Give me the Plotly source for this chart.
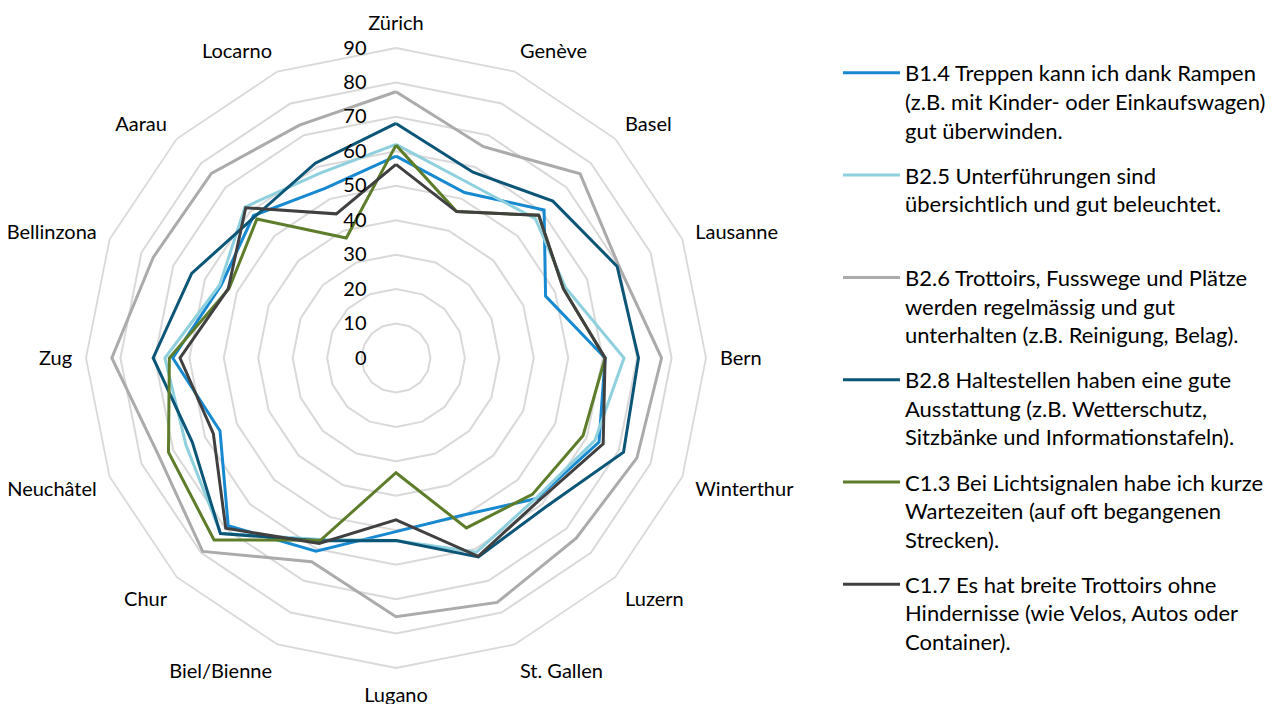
import plotly.graph_objects as go

cities = ["Zürich", "Genève", "Basel", "Lausanne", "Bern", "Winterthur", "Luzern",
          "St. Gallen", "Lugano", "Biel/Bienne", "Chur", "Neuchâtel", "Zug",
          "Bellinzona", "Aarau", "Locarno"]

b14 = [58.6, 52.0, 60.8, 47.0, 60.7, 63.8, 57.7, 49.5, 50.4, 60.7, 68.9, 55.3, 64.8, 55.0, 58.5, 53.4]
b25 = [62.0, 55.0, 57.2, 53.3, 66.2, 62.5, 57.5, 61.0, 53.0, 57.0, 72.0, 66.0, 67.1, 55.4, 62.0, 58.0]
b26 = [77.3, 66.4, 75.6, 70.0, 77.1, 75.7, 74.0, 76.8, 75.1, 64.0, 79.4, 74.5, 82.5, 76.3, 75.8, 73.2]
b28 = [68.1, 58.4, 64.4, 69.5, 70.4, 71.5, 61.3, 62.5, 53.0, 57.4, 72.1, 64.0, 70.5, 64.2, 58.0, 61.2]
c13 = [61.8, 46.0, 58.6, 52.6, 60.7, 58.8, 56.0, 53.4, 33.3, 57.3, 74.7, 71.5, 65.8, 52.5, 57.1, 37.7]
c17 = [56.2, 46.0, 58.6, 52.6, 60.7, 65.1, 58.6, 62.3, 47.0, 58.3, 69.9, 57.4, 62.7, 52.7, 61.7, 45.3]

series_names = [
    "B1.4 Treppen kann ich dank Rampen<br>(z.B. mit Kinder- oder Einkaufswagen)<br>gut überwinden.",
    "B2.5 Unterführungen sind<br>übersichtlich und gut beleuchtet.<br> ",
    "B2.6 Trottoirs, Fusswege und Plätze<br>werden regelmässig und gut<br>unterhalten (z.B. Reinigung, Belag).",
    "B2.8 Haltestellen haben eine gute<br>Ausstattung (z.B. Wetterschutz,<br>Sitzbänke und Informationstafeln).",
    "C1.3 Bei Lichtsignalen habe ich kurze<br>Wartezeiten (auf oft begangenen<br>Strecken).",
    "C1.7 Es hat breite Trottoirs ohne<br>Hindernisse (wie Velos, Autos oder<br>Container).",
]
series_values = [b14, b25, b26, b28, c13, c17]
series_colors = ["#1689D0", "#8ED0DD", "#ABABAB", "#0B5577", "#5E7D2A", "#404040"]

radial_ticks = [0, 10, 20, 30, 40, 50, 60, 70, 80, 90]

FONT = "Lato"

fig = go.Figure()
for i, (name, vals, col) in enumerate(zip(series_names, series_values, series_colors)):
    fig.add_trace(go.Scatterpolar(
        r=vals + [vals[0]],
        theta=cities + [cities[0]],
        mode="lines",
        name=name,
        legendgroup=f"g{i}",
        line=dict(color=col, width=3),
    ))

W, H = 1284, 704
cx, cy, R = 388, 350, 310
fig.update_layout(
    width=W, height=H,
    margin=dict(l=0, r=0, t=0, b=0, autoexpand=False),
    paper_bgcolor="white",
    plot_bgcolor="white",
    font=dict(family=FONT, color="#000000"),
    polar=dict(
        domain=dict(x=[(cx - R) / W, (cx + R) / W], y=[1 - (cy + R) / H, 1 - (cy - R) / H]),
        bgcolor="white",
        gridshape="linear",
        radialaxis=dict(
            range=[0, 90],
            tickvals=radial_ticks,
            angle=90,
            tickangle=90,
            side="counterclockwise",
            showline=False,
            ticks="outside",
            ticklen=22,
            tickcolor="rgba(0,0,0,0)",
            gridcolor="#D9D9D9",
            gridwidth=1.8,
            tickfont=dict(size=20, family=FONT, color="#000000"),
        ),
        angularaxis=dict(
            direction="clockwise",
            rotation=90,
            showgrid=False,
            showline=True,
            linecolor="#D9D9D9",
            linewidth=1.8,
            ticks="outside",
            ticklen=9,
            tickcolor="rgba(0,0,0,0)",
            tickfont=dict(size=20, family=FONT, color="#000000"),
        ),
    ),
    showlegend=True,
    legend=dict(
        x=0.6464, y=0.9375, xanchor="left", yanchor="top",
        traceorder="grouped",
        tracegroupgap=13.5,
        valign="top",
        itemwidth=57,
        font=dict(size=22, family=FONT, color="#000000"),
        bgcolor="rgba(0,0,0,0)",
    ),
)

fig.write_html("out.html")
